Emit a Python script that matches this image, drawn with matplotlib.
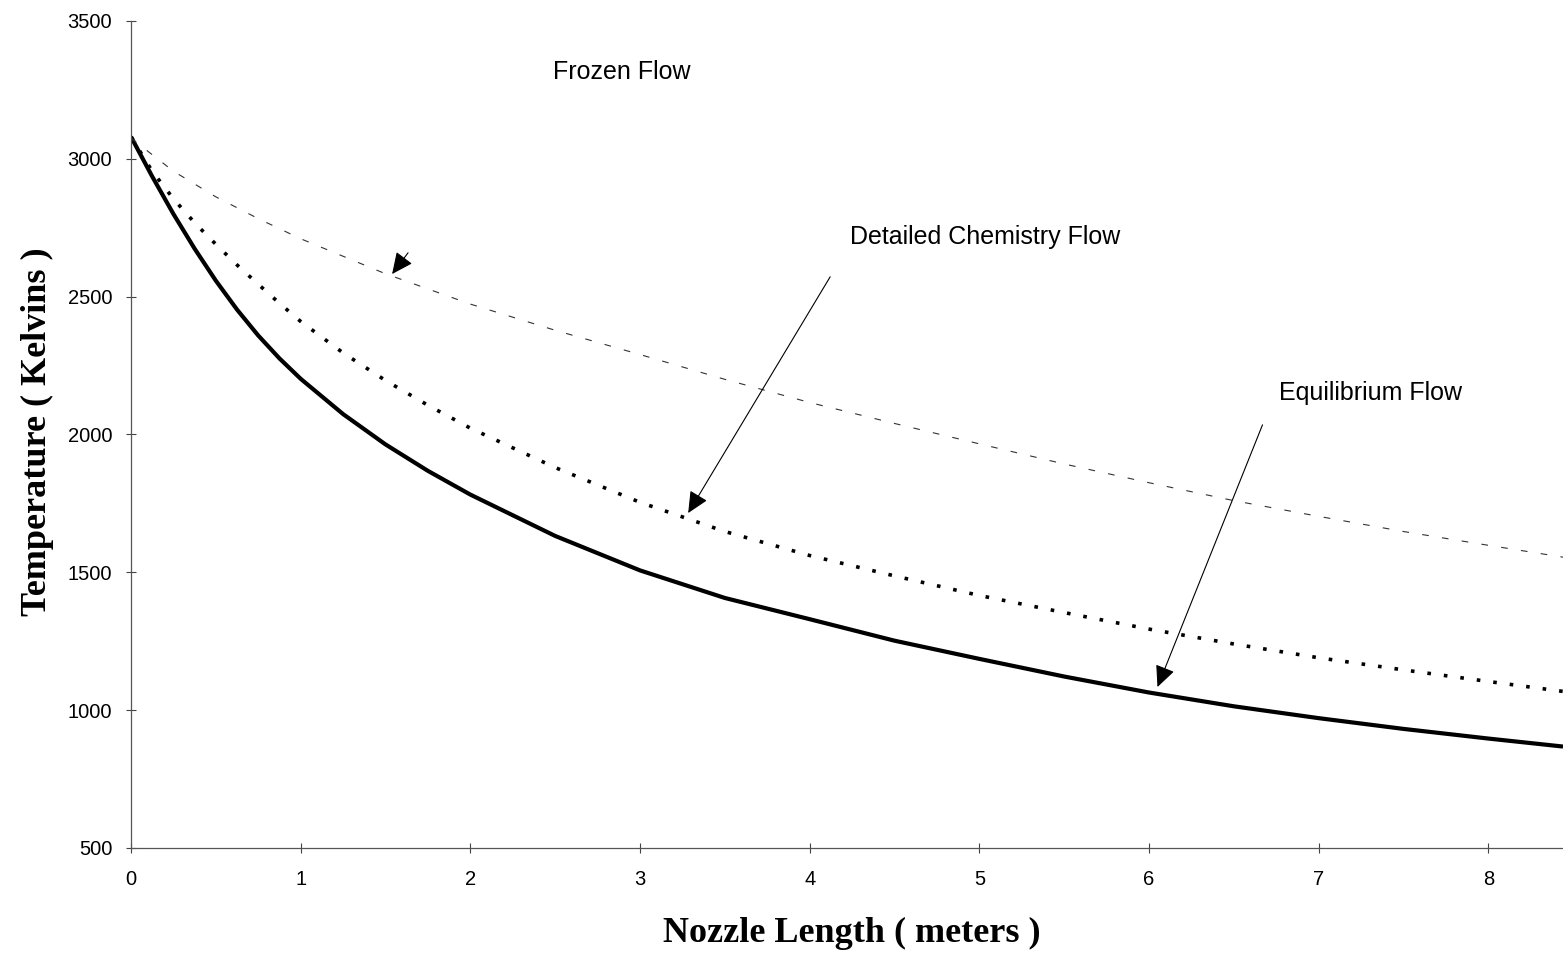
import matplotlib
matplotlib.use("Agg")
import matplotlib.pyplot as plt

# nozzle length (m) vs temperature (K)
x_eq = [0, 0.125, 0.25, 0.375, 0.5, 0.625, 0.75, 0.875, 1, 1.25, 1.5, 1.75, 2, 2.5, 3, 3.5,
        4, 4.5, 5, 5.5, 6, 6.5, 7, 7.5, 8, 8.44]
t_eq = [3080, 2936, 2800, 2674, 2558, 2453, 2359, 2276, 2202, 2074, 1964, 1868, 1782, 1632,
        1507, 1407, 1330, 1252, 1186, 1122, 1064, 1014, 971, 932, 897, 868]

x_det = [0, 0.125, 0.25, 0.375, 0.5, 0.625, 0.75, 0.875, 1, 1.25, 1.5, 1.75, 2, 2.5, 3, 3.5,
         4, 4.5, 5, 5.5, 6, 6.5, 7, 7.5, 8, 8.44]
t_det = [3080, 2955, 2855, 2768, 2690, 2615, 2545, 2476, 2410, 2296, 2196, 2106, 2023, 1880,
         1754, 1648, 1561, 1487, 1416, 1354, 1294, 1240, 1190, 1146, 1104, 1068]

x_frz = [0, 0.25, 0.5, 0.75, 1, 1.5, 2, 2.5, 3, 3.5, 4, 4.5, 5, 5.5, 6, 6.5, 7, 7.5, 8, 8.44]
t_frz = [3075, 2955, 2862, 2783, 2710, 2583, 2473, 2378, 2290, 2200, 2116, 2040, 1966, 1893,
         1825, 1760, 1703, 1648, 1598, 1555]

x_ticks = [0, 1, 2, 3, 4, 5, 6, 7, 8]
y_ticks = [500, 1000, 1500, 2000, 2500, 3000, 3500]

sans = "Liberation Sans"
serif = "Liberation Serif"

fig = plt.figure(figsize=(15.63, 9.57), dpi=100)
ax = fig.add_axes([0.0838, 0.1139, 0.9162, 0.8642])

ax.plot(x_eq, t_eq, color="black", lw=3.0, solid_capstyle="butt", solid_joinstyle="round")
ax.plot(x_det, t_det, color="black", lw=2.6, linestyle=(0, (1, 3.6)), dash_capstyle="butt")
ax.plot(x_frz, t_frz, color="#333333", lw=0.8, linestyle=(0, (6, 12)))

ax.set_xlim(0, 8.44)
ax.set_ylim(500, 3500)
ax.set_xticks(x_ticks)
ax.set_yticks(y_ticks)
ax.set_xticklabels([str(v) for v in x_ticks], fontfamily=sans, fontsize=14.5)
ax.set_yticklabels([str(v) for v in y_ticks], fontfamily=sans, fontsize=14.5)
ax.tick_params(axis="both", direction="inout", length=7, width=0.8, color="#444444")
ax.tick_params(axis="x", pad=12)
ax.tick_params(axis="y", pad=10)

for s in ["top", "right"]:
    ax.spines[s].set_visible(False)
for s in ["left", "bottom"]:
    ax.spines[s].set_color("#555555")
    ax.spines[s].set_linewidth(0.9)

# annotations
arrow = dict(arrowstyle="-|>,head_length=0.6,head_width=0.28", color="black", lw=0.8,
             shrinkA=0, shrinkB=0, mutation_scale=22)

ax.text(2.895, 3315, "Frozen Flow", fontfamily=sans, fontsize=18, ha="center", va="center")
ax.annotate("", xy=(1.539, 2582), xytext=(1.633, 2659), arrowprops=arrow)

ax.text(5.035, 2717, "Detailed Chemistry Flow", fontfamily=sans, fontsize=18, ha="center", va="center")
ax.annotate("", xy=(3.284, 1715), xytext=(4.121, 2572), arrowprops=arrow)

ax.text(7.305, 2151, "Equilibrium Flow", fontfamily=sans, fontsize=18, ha="center", va="center")
ax.annotate("", xy=(6.05, 1084), xytext=(6.669, 2035), arrowprops=arrow)

fig.text(0.545, 0.025, "Nozzle Length ( meters )", fontfamily=serif, fontweight="bold",
         fontsize=26, ha="center", va="center")
fig.text(0.024, 0.549, "Temperature ( Kelvins )", fontfamily=serif, fontweight="bold",
         fontsize=26, ha="center", va="center", rotation=90)

fig.savefig("out.png", dpi=100)
